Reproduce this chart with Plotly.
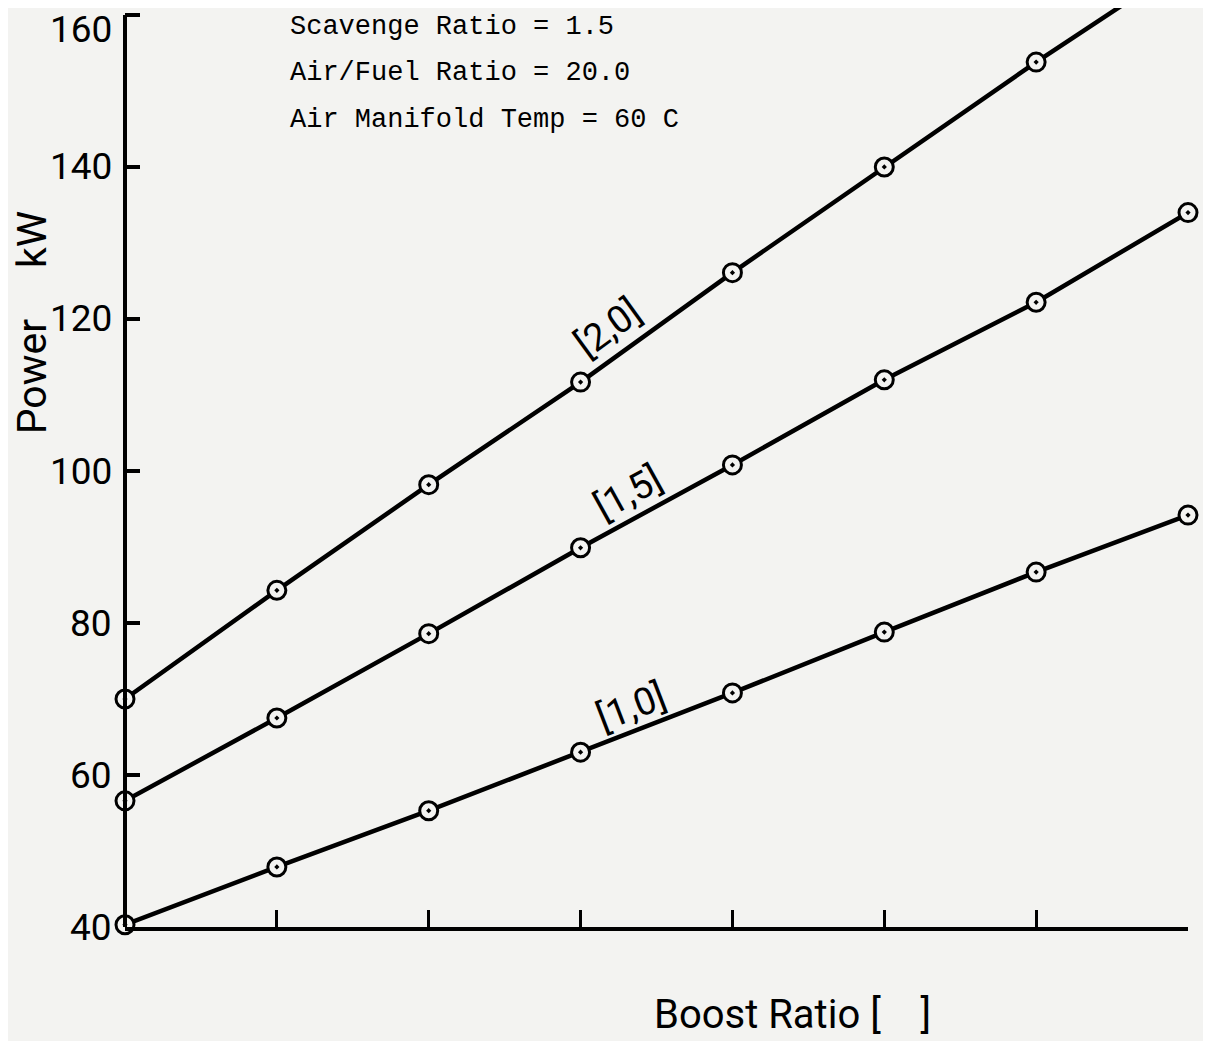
import plotly.graph_objects as go

# ---- data ----
boost_ratio = [1.0, 1.2, 1.4, 1.6, 1.8, 2.0, 2.2, 2.4]
power_scav_2_0 = [70.0, 84.3, 98.2, 111.7, 126.1, 140.0, 153.8, 167.0]
power_scav_1_5 = [56.6, 67.5, 78.6, 89.9, 100.8, 112.0, 122.2, 134.0]
power_scav_1_0 = [40.3, 47.9, 55.3, 63.0, 70.8, 78.8, 86.7, 94.2]
y_ticks = [40, 60, 80, 100, 120, 140, 160]
y_tick_labels = ["40", "60", "80", "100", "120", "140", "160"]
series_labels = ["[2,0]", "[1,5]", "[1,0]"]

label_pos = [(1.636, 118.8, -36), (1.662, 97.1, -29), (1.666, 69.0, -21)]

bg = "#f3f3f1"
sans = "Roboto"
fig = go.Figure()
for name, vals, (lx, ly, ang) in zip(series_labels,
                                     [power_scav_2_0, power_scav_1_5, power_scav_1_0],
                                     label_pos):
    fig.add_trace(go.Scatter(
        x=boost_ratio, y=vals, mode="lines+markers", name=name,
        line=dict(color="black", width=4.5),
        marker=dict(symbol="circle-dot", size=18, color=bg,
                    line=dict(color="black", width=3)),
        cliponaxis=False, showlegend=False))
    fig.add_annotation(x=lx, y=ly, xref="x", yref="y", text=name, showarrow=False,
                       textangle=ang, xanchor="center", yanchor="middle",
                       font=dict(family=sans, size=38, color="black"))

# y-axis line from 40 to 160 only
fig.add_shape(type="line", xref="paper", yref="y", x0=0, x1=0, y0=40, y1=160,
              line=dict(color="black", width=4), layer="above")

# y tick labels (160 nudged down so it stays inside the page)
for v, t in zip(y_ticks, y_tick_labels):
    fig.add_annotation(x=0, y=v, xref="paper", yref="y", text=t, showarrow=False,
                       xanchor="right", yanchor="middle", xshift=-11,
                       yshift=(-15 if v == y_ticks[-1] else 0),
                       font=dict(family=sans, size=37, color="black"))

notes = ["Scavenge Ratio = 1.5", "Air/Fuel Ratio = 20.0", "Air Manifold Temp = 60 C"]
note_y = [0.9793, 0.9293, 0.8781]
for t, yy in zip(notes, note_y):
    fig.add_annotation(x=0.1533, y=yy, xref="paper", yref="paper",
                       text=t, showarrow=False, xanchor="left", yanchor="middle",
                       font=dict(family="Liberation Mono", size=27, color="black"))

fig.add_annotation(x=0.628, y=-0.1235, xref="paper", yref="paper",
                   text="Boost Ratio [&nbsp;&nbsp;&nbsp;&nbsp;]", showarrow=False,
                   xanchor="center", yanchor="bottom",
                   font=dict(family=sans, size=40, color="black"))
fig.add_annotation(x=-0.0875, y=0.658, xref="paper", yref="paper",
                   text="Power&nbsp;&nbsp;&nbsp;&nbsp;&nbsp;kW", showarrow=False,
                   textangle=-90, xanchor="center", yanchor="middle",
                   font=dict(family=sans, size=41, color="black"))

fig.update_xaxes(range=[1.0, 2.4], tickvals=boost_ratio, showticklabels=False,
                 ticks="inside", ticklen=17, tickwidth=3, tickcolor="black",
                 showline=True, linecolor="black", linewidth=4,
                 showgrid=False, zeroline=False, automargin=False)
fig.update_yaxes(range=[40, 160.92], tickvals=y_ticks, ticks="inside", ticklen=15,
                 tickwidth=3.5, tickcolor="black", showline=False,
                 showticklabels=False, showgrid=False, zeroline=False,
                 automargin=False)

fig.update_layout(width=1203, height=1033, paper_bgcolor=bg, plot_bgcolor=bg,
                  margin=dict(l=117, r=23, t=0, b=114, autoexpand=False))
fig.write_html("out.html")
